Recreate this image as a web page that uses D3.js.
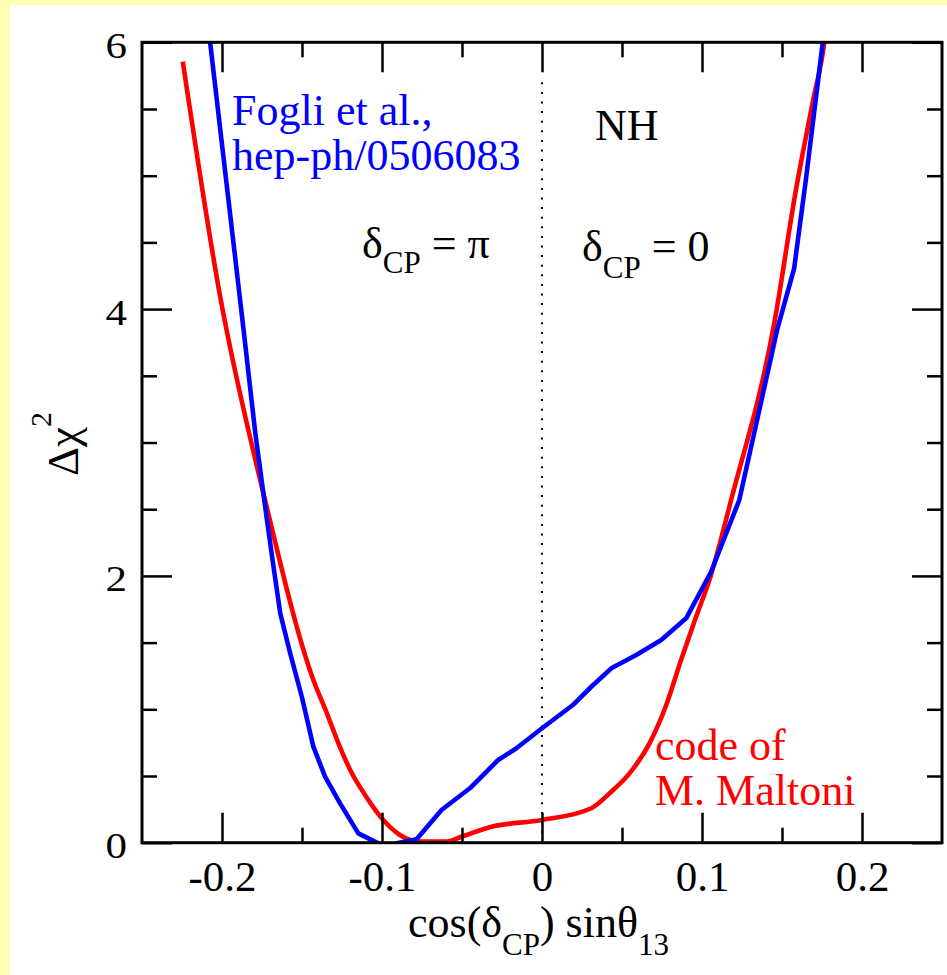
<!DOCTYPE html>
<html>
<head>
<meta charset="utf-8">
<script src="https://cdn.jsdelivr.net/npm/d3@7"></script>
<style>
  html, body { margin: 0; padding: 0; background: #ffffb3; }
  svg { display: block; }
  text { font-family: "Liberation Serif", "Times New Roman", serif; }
</style>
</head>
<body>
<svg id="chart" width="947" height="975"></svg>
<script>
// Δχ² profiles as a function of cos(δCP) sinθ13 (normal hierarchy)

// Curve from the code of M. Maltoni
const maltoniX = [-0.2245, -0.2011, -0.1731, -0.1429, -0.1345, -0.1273, -0.1189, -0.1106, -0.0992,
  -0.0888, -0.0763, -0.0596, -0.0503, -0.0316, 0, 0.0308, 0.0433, 0.0547, 0.0672, 0.0776, 0.0869,
  0.0953, 0.1056, 0.1182, 0.1452, 0.1587, 0.1691, 0.1764, 0.1775];
const maltoniY = [5.855, 4.091, 2.569, 1.220, 0.972, 0.747, 0.522, 0.358, 0.170,
  0.058, 0.008, 0.008, 0.045, 0.120, 0.170, 0.258, 0.382, 0.520, 0.745, 1.03, 1.37,
  1.66, 2.007, 2.569, 3.896, 4.893, 5.545, 5.995, 6.1];

// Curve of Fogli et al., hep-ph/0506083
const fogliX = [-0.2084, -0.1865, -0.1792, -0.1719, -0.1678, -0.1636, -0.1574, -0.1501, -0.1429,
  -0.1356, -0.1262, -0.1148, -0.1023, -0.0969, -0.0908, -0.0784, -0.0628, -0.0451, -0.0274, -0.0160,
  0, 0.0193, 0.0308, 0.0433, 0.0589, 0.0745, 0.0901, 0.1057, 0.1233, 0.1472, 0.1576, 0.1649,
  0.1722, 0.1765];
const fogliY = [6.1, 3.844, 3.071, 2.419, 2.069, 1.720, 1.420, 1.094, 0.720,
  0.495, 0.295, 0.070, -0.005, -0.04, -0.005, 0.025, 0.245, 0.408, 0.620, 0.708,
  0.858, 1.032, 1.169, 1.307, 1.407, 1.520, 1.682, 2.031, 2.569, 3.856, 4.306, 4.968,
  5.680, 6.1];

// Axis ticks and labels
const xMajorTicks = [-0.2, -0.1, 0, 0.1, 0.2];
const xTickLabels = ["-0.2", "-0.1", "0", "0.1", "0.2"];
const xMinorTicks = [-0.15, -0.05, 0.05, 0.15];
const yMajorTicks = [0, 2, 4, 6];
const yTickLabels = ["0", "2", "4", "6"];
const yMinorTicks = [0.5, 1, 1.5, 2.5, 3, 3.5, 4.5, 5, 5.5];

// Upper end of the dotted δCP divider at x = 0
const dividerTop = 5.7;

const svg = d3.select("#chart");

// white page panel
svg.append("rect").attr("x", 10).attr("y", 5).attr("width", 937).attr("height", 970)
  .attr("fill", "#ffffff");

const plotLeft = 142, plotRight = 942, plotTop = 42.3, plotBottom = 842.7;
const x = d3.scaleLinear().domain([-0.25, 0.25]).range([plotLeft, plotRight]);
const y = d3.scaleLinear().domain([0, 6]).range([plotBottom, plotTop]);

svg.append("defs").append("clipPath").attr("id", "plotClip")
  .append("rect").attr("x", plotLeft).attr("y", plotTop)
  .attr("width", plotRight - plotLeft).attr("height", plotBottom - plotTop);

// dotted divider
svg.append("line")
  .attr("x1", x(0)).attr("x2", x(0))
  .attr("y1", y(0)).attr("y2", y(dividerTop))
  .attr("stroke", "#000").attr("stroke-width", 2)
  .attr("stroke-dasharray", "2,7.6");

// curves: the Maltoni profile is a smooth scan, the Fogli one a polyline
const smoothLine = d3.line().curve(d3.curveMonotoneX).x(d => x(d[0])).y(d => y(d[1]));
const polyLine = d3.line().x(d => x(d[0])).y(d => y(d[1]));
const curves = svg.append("g").attr("clip-path", "url(#plotClip)");
curves.append("path")
  .datum(d3.zip(maltoniX, maltoniY))
  .attr("d", smoothLine).attr("fill", "none")
  .attr("stroke", "#ff0000").attr("stroke-width", 4.6)
  .attr("stroke-linejoin", "round");
curves.append("path")
  .datum(d3.zip(fogliX, fogliY))
  .attr("d", polyLine).attr("fill", "none")
  .attr("stroke", "#0000ff").attr("stroke-width", 4.6)
  .attr("stroke-linejoin", "round");

// axes: inward ticks on all four sides
function styleAxis(g) {
  g.select(".domain").remove();
  g.selectAll(".tick line").attr("stroke", "#000").attr("stroke-width", 2.5);
}
const majorLen = 30, minorLen = 15;

const gBottom = svg.append("g").attr("transform", `translate(0,${plotBottom})`)
  .call(d3.axisBottom(x).tickValues(xMajorTicks).tickFormat((d, i) => xTickLabels[i])
    .tickSizeInner(-majorLen).tickSizeOuter(0))
  .call(styleAxis);
gBottom.selectAll(".tick text")
  .attr("y", 48).attr("dy", 0)
  .attr("font-size", 43).attr("font-family", "Liberation Serif, serif")
  .attr("fill", "#000");
svg.append("g").attr("transform", `translate(0,${plotBottom})`)
  .call(d3.axisBottom(x).tickValues(xMinorTicks).tickFormat("")
    .tickSizeInner(-minorLen).tickSizeOuter(0))
  .call(styleAxis);

svg.append("g").attr("transform", `translate(0,${plotTop})`)
  .call(d3.axisTop(x).tickValues(xMajorTicks).tickFormat("")
    .tickSizeInner(-majorLen).tickSizeOuter(0))
  .call(styleAxis);
svg.append("g").attr("transform", `translate(0,${plotTop})`)
  .call(d3.axisTop(x).tickValues(xMinorTicks).tickFormat("")
    .tickSizeInner(-minorLen).tickSizeOuter(0))
  .call(styleAxis);

const gLeft = svg.append("g").attr("transform", `translate(${plotLeft},0)`)
  .call(d3.axisLeft(y).tickValues(yMajorTicks).tickFormat((d, i) => yTickLabels[i])
    .tickSizeInner(-majorLen).tickSizeOuter(0))
  .call(styleAxis);
gLeft.selectAll(".tick text")
  .attr("x", 0).attr("dy", 0)
  .attr("transform", "translate(-15,15) scale(1,0.82)")
  .attr("text-anchor", "end")
  .attr("font-size", 43).attr("font-family", "Liberation Serif, serif")
  .attr("fill", "#000");
svg.append("g").attr("transform", `translate(${plotLeft},0)`)
  .call(d3.axisLeft(y).tickValues(yMinorTicks).tickFormat("")
    .tickSizeInner(-minorLen).tickSizeOuter(0))
  .call(styleAxis);

svg.append("g").attr("transform", `translate(${plotRight},0)`)
  .call(d3.axisRight(y).tickValues(yMajorTicks).tickFormat("")
    .tickSizeInner(-majorLen).tickSizeOuter(0))
  .call(styleAxis);
svg.append("g").attr("transform", `translate(${plotRight},0)`)
  .call(d3.axisRight(y).tickValues(yMinorTicks).tickFormat("")
    .tickSizeInner(-minorLen).tickSizeOuter(0))
  .call(styleAxis);

// frame
svg.append("rect")
  .attr("x", plotLeft).attr("y", plotTop)
  .attr("width", plotRight - plotLeft).attr("height", plotBottom - plotTop)
  .attr("fill", "none").attr("stroke", "#000").attr("stroke-width", 3);

// text helpers
const FS = 44, SUB = 31;
function label(xp, yp, color) {
  return svg.append("text").attr("x", xp).attr("y", yp)
    .attr("font-size", FS).attr("fill", color);
}

// axis titles
const xt = label(408, 937, "#000");
xt.append("tspan").text("cos(δ");
xt.append("tspan").attr("font-size", SUB).attr("dy", 18).text("CP");
xt.append("tspan").attr("dy", -18).text(") sinθ");
xt.append("tspan").attr("font-size", SUB).attr("dy", 18).text("13");

const yt = svg.append("text")
  .attr("transform", "translate(78,444) rotate(-90)")
  .attr("text-anchor", "middle")
  .attr("font-size", 45).attr("fill", "#000");
yt.append("tspan").text("Δχ");
yt.append("tspan").attr("font-size", 30).attr("dy", -27).text("2");

// annotations
label(595, 140, "#000").text("NH");

const t1 = label(362, 258, "#000");
t1.append("tspan").text("δ");
t1.append("tspan").attr("font-size", SUB).attr("dy", 15).text("CP");
t1.append("tspan").attr("dy", -15).text(" = π");

const t2 = label(582, 261, "#000");
t2.append("tspan").text("δ");
t2.append("tspan").attr("font-size", SUB).attr("dy", 17).text("CP");
t2.append("tspan").attr("dy", -17).text(" = 0");

label(232, 125, "#0000ff").text("Fogli et al.,");
label(232, 170, "#0000ff").text("hep-ph/0506083");

label(655, 760, "#ff0000").text("code of");
label(655, 805, "#ff0000").text("M. Maltoni");
</script>
</body>
</html>
